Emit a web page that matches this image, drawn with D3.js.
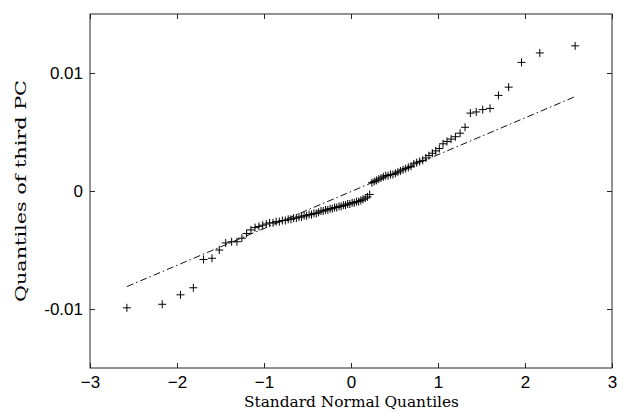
<!DOCTYPE html>
<html>
<head>
<meta charset="utf-8">
<script src="https://cdn.jsdelivr.net/npm/d3@7/dist/d3.min.js"></script>
<style>
  html, body { margin: 0; padding: 0; background: #fff; }
  svg { display: block; }
</style>
</head>
<body>
<script>
// Standard normal quantiles (x)
const normalQuantiles = [
  -2.576, -2.170, -1.960, -1.812, -1.695, -1.598, -1.514, -1.440, -1.372, -1.311,
  -1.254, -1.200, -1.150, -1.103, -1.058, -1.015, -0.974, -0.935, -0.896, -0.860,
  -0.824, -0.789, -0.755, -0.722, -0.690, -0.659, -0.628, -0.598, -0.568, -0.539,
  -0.510, -0.482, -0.454, -0.426, -0.399, -0.372, -0.345, -0.319, -0.292, -0.266,
  -0.240, -0.215, -0.189, -0.164, -0.138, -0.113, -0.088, -0.063, -0.038, -0.013,
   0.013,  0.038,  0.063,  0.088,  0.113,  0.138,  0.164,  0.189,  0.215,  0.240,
   0.266,  0.292,  0.319,  0.345,  0.372,  0.399,  0.426,  0.454,  0.482,  0.510,
   0.539,  0.568,  0.598,  0.628,  0.659,  0.690,  0.722,  0.755,  0.789,  0.824,
   0.860,  0.896,  0.935,  0.974,  1.015,  1.058,  1.103,  1.150,  1.200,  1.254,
   1.311,  1.372,  1.440,  1.514,  1.598,  1.695,  1.812,  1.960,  2.170,  2.576
];
// Sample quantiles of the third PC (y)
const pcQuantiles = [
  -0.0099, -0.0096, -0.0088, -0.0082, -0.0058, -0.0057, -0.0050, -0.0044, -0.0043, -0.0043,
  -0.0040, -0.0036, -0.0033, -0.0031, -0.0030, -0.0029, -0.0028, -0.0027, -0.0027, -0.0026,
  -0.0026, -0.0025, -0.0025, -0.0024, -0.0024, -0.0023, -0.0023, -0.0022, -0.0022, -0.0021,
  -0.0021, -0.0020, -0.0020, -0.0019, -0.0019, -0.0018, -0.0017, -0.0017, -0.0016, -0.0016,
  -0.0015, -0.0015, -0.0014, -0.0014, -0.0013, -0.0013, -0.0012, -0.0012, -0.0011, -0.0011,
  -0.0010, -0.0010, -0.0009, -0.0009, -0.0008, -0.0007, -0.0006, -0.0005, -0.0003,  0.0007,
   0.0008,  0.0009,  0.0010,  0.0011,  0.0012,  0.0013,  0.0013,  0.0014,  0.0014,  0.0015,
   0.0016,  0.0017,  0.0018,  0.0019,  0.0020,  0.0021,  0.0023,  0.0024,  0.0025,  0.0026,
   0.0028,  0.0030,  0.0032,  0.0034,  0.0036,  0.0040,  0.0042,  0.0044,  0.0046,  0.0049,
   0.0054,  0.0066,  0.0067,  0.0069,  0.0070,  0.0081,  0.0088,  0.0109,  0.0117,  0.0123
];
// Reference line end points
const refLineX = [-2.576, 2.576];
const refLineY = [-0.0081, 0.0080];

const xTicks = [-3, -2, -1, 0, 1, 2, 3];
const yTicks = [-0.01, 0, 0.01];
const yTickLabels = ["-0.01", "0", "0.01"];
const xDomain = [-3, 3];
const yDomain = [-0.015, 0.015];
const xTitle = "Standard Normal Quantiles";
const yTitle = "Quantiles of third PC";

const W = 618, H = 412;
const m = { left: 90, right: 6, top: 14, bottom: 44 };
const iw = W - m.left - m.right, ih = H - m.top - m.bottom;

const svg = d3.select("body").append("svg").attr("width", W).attr("height", H);
const g = svg.append("g").attr("transform", `translate(${m.left},${m.top})`);

const x = d3.scaleLinear().domain(xDomain).range([0, iw]);
const y = d3.scaleLinear().domain(yDomain).range([ih, 0]);

const axisColor = "#262626";
const tickFont = "'Liberation Sans', Arial, sans-serif";

// Box
g.append("rect").attr("x", 0).attr("y", 0).attr("width", iw).attr("height", ih)
  .attr("fill", "none").attr("stroke", axisColor).attr("stroke-width", 1);

// Axes (inward ticks)
const ax = (sel) => {
  sel.attr("font-size", null).attr("font-family", null);
  sel.selectAll(".domain").remove();
  sel.selectAll(".tick line").attr("stroke", axisColor);
  sel.selectAll(".tick text").attr("fill", "#000")
    .style("font-family", tickFont).style("font-size", "17px");
};
g.append("g").attr("transform", `translate(0,${ih})`)
  .call(d3.axisBottom(x).tickValues(xTicks).tickSizeInner(-5).tickSizeOuter(0).tickPadding(8).tickFormat(d3.format("d")))
  .call(ax);
g.append("g")
  .call(d3.axisTop(x).tickValues(xTicks).tickSizeInner(-5).tickSizeOuter(0).tickFormat(""))
  .call(ax);
g.append("g")
  .call(d3.axisLeft(y).tickValues(yTicks).tickSizeInner(-5).tickSizeOuter(0).tickPadding(7)
    .tickFormat((d, i) => yTickLabels[i]))
  .call(ax);
g.append("g").attr("transform", `translate(${iw},0)`)
  .call(d3.axisRight(y).tickValues(yTicks).tickSizeInner(-5).tickSizeOuter(0).tickFormat(""))
  .call(ax);

// Reference line
g.append("line")
  .attr("x1", x(refLineX[0])).attr("y1", y(refLineY[0]))
  .attr("x2", x(refLineX[1])).attr("y2", y(refLineY[1]))
  .attr("stroke", "#111").attr("stroke-width", 1)
  .attr("stroke-dasharray", "7,3,1.5,3");

// Plus markers
const pts = normalQuantiles.map((q, i) => [q, pcQuantiles[i]]);
const s = 4;
g.append("g").selectAll("path").data(pts).join("path")
  .attr("d", d => {
    const cx = x(d[0]), cy = y(d[1]);
    return `M${cx - s},${cy}H${cx + s}M${cx},${cy - s}V${cy + s}`;
  })
  .attr("stroke", "#000").attr("stroke-width", 1).attr("fill", "none");

// Titles
svg.append("text")
  .attr("x", m.left + iw / 2 + 0.5).attr("y", 407)
  .attr("text-anchor", "middle")
  .attr("textLength", 215).attr("lengthAdjust", "spacingAndGlyphs")
  .style("font-family", "'DejaVu Serif', serif").style("font-size", "15px")
  .text(xTitle);
svg.append("text")
  .attr("transform", `translate(26,${m.top + ih / 2}) rotate(-90)`)
  .attr("text-anchor", "middle")
  .attr("textLength", 222).attr("lengthAdjust", "spacingAndGlyphs")
  .style("font-family", "'DejaVu Serif', serif").style("font-size", "15px")
  .text(yTitle);
</script>
</body>
</html>
